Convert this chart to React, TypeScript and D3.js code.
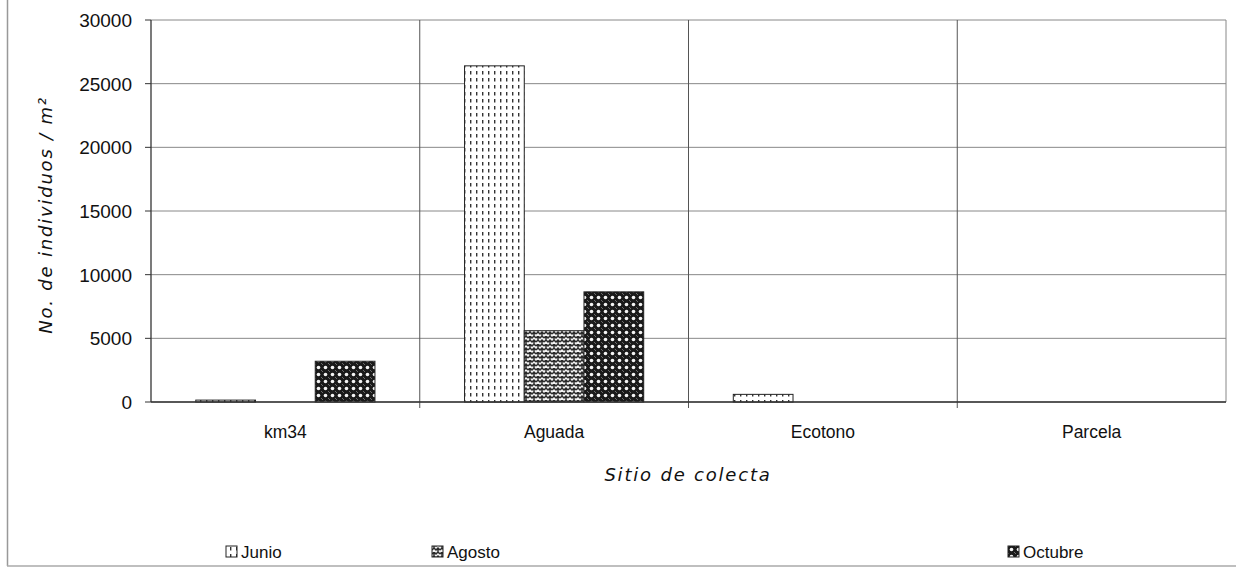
import React from "react";
import * as d3 from "d3";

const categories = ["km34", "Aguada", "Ecotono", "Parcela"];
const seriesNames = ["Junio", "Agosto", "Octubre"];
const junio = [150, 26400, 600, 0];
const agosto = [0, 5600, 0, 0];
const octubre = [3200, 8650, 0, 0];
const yTicks = [0, 5000, 10000, 15000, 20000, 25000, 30000];

const W = 1236;
const H = 569;
const M = { left: 151, right: 1226, top: 20, bottom: 402 };

export default function App() {
  const values = [junio, agosto, octubre];
  const x0 = d3.scaleBand<string>().domain(categories).range([M.left, M.right]).padding(0);
  const x1 = d3
    .scaleBand<string>()
    .domain(seriesNames)
    .range([0, x0.bandwidth()])
    .paddingInner(0)
    .paddingOuter(0.75);
  const y = d3.scaleLinear().domain([0, 30000]).range([M.bottom, M.top]);
  const fills = ["url(#pJunio)", "url(#pAgosto)", "url(#pOctubre)"];
  const font = "'Liberation Sans', Arial, sans-serif";
  const titleFont = "'DejaVu Sans', Verdana, sans-serif";

  return (
    <svg width={W} height={H} style={{ position: "absolute", left: 0, top: 0, background: "#fff" }}>
      <defs>
        <pattern id="pJunio" width="6" height="7" patternUnits="userSpaceOnUse">
          <rect width="6" height="7" fill="#fff" />
          <rect x="2" y="1" width="1.4" height="3.5" fill="#333" />
        </pattern>
        <pattern id="pAgosto" width="8" height="8" patternUnits="userSpaceOnUse">
          <rect width="8" height="8" fill="#f2f2f2" />
          <path d="M0,2 L2,0 L4,2 L6,0 L8,2 M0,6 L2,4 L4,6 L6,4 L8,6 M2,0 L2,4 M6,4 L6,8" stroke="#2a2a2a" strokeWidth="1.5" fill="none" />
        </pattern>
        <pattern id="pOctubre" width="7" height="7" patternUnits="userSpaceOnUse">
          <rect width="7" height="7" fill="#1a1a1a" />
          <circle cx="3.5" cy="3.5" r="1.8" fill="#f4f4f4" />
          <circle cx="0" cy="0" r="1" fill="#888" />
          <circle cx="7" cy="7" r="1" fill="#888" />
        </pattern>
      </defs>

      {/* outer frame */}
      <line x1={7.5} y1={0} x2={7.5} y2={566} stroke="#999" strokeWidth={1.5} />
      <line x1={7} y1={566} x2={W} y2={566} stroke="#aaa" strokeWidth={1.5} />

      {/* horizontal gridlines */}
      {yTicks.map((t) => (
        <line key={"g" + t} x1={M.left} x2={M.right} y1={y(t)} y2={y(t)} stroke="#888" strokeWidth={1} />
      ))}
      {/* vertical gridlines at category boundaries */}
      {categories.map((c, i) => (
        <line
          key={"v" + c}
          x1={(x0(c) as number) + x0.bandwidth()}
          x2={(x0(c) as number) + x0.bandwidth()}
          y1={M.top}
          y2={M.bottom + (i < categories.length - 1 ? 6 : 0)}
          stroke={i < categories.length - 1 ? "#555" : "#888"}
          strokeWidth={1}
        />
      ))}

      {/* bars */}
      {categories.map((c, ci) =>
        seriesNames.map((s, si) => {
          const v = values[si][ci];
          if (v <= 0) return null;
          const bx = (x0(c) as number) + (x1(s) as number);
          return (
            <rect
              key={c + s}
              x={bx}
              y={y(v)}
              width={x1.bandwidth()}
              height={M.bottom - y(v)}
              fill={fills[si]}
              stroke="#222"
              strokeWidth={1}
            />
          );
        })
      )}

      {/* axes */}
      <line x1={M.left} x2={M.left} y1={M.top} y2={M.bottom} stroke="#333" strokeWidth={1.3} />
      <line x1={M.left} x2={M.right} y1={M.bottom} y2={M.bottom} stroke="#333" strokeWidth={1.3} />
      {yTicks.map((t) => (
        <g key={"t" + t}>
          <line x1={M.left - 6} x2={M.left} y1={y(t)} y2={y(t)} stroke="#333" />
          <text
            x={M.left - 19}
            y={y(t)}
            dy="0.36em"
            textAnchor="end"
            fontFamily={font}
            fontSize={19}
            fill="#111"
          >
            {t}
          </text>
        </g>
      ))}
      {categories.map((c) => (
        <text
          key={"c" + c}
          x={(x0(c) as number) + x0.bandwidth() / 2}
          y={438}
          textAnchor="middle"
          fontFamily={font}
          fontSize={17.5}
          fill="#111"
        >
          {c}
        </text>
      ))}

      {/* axis titles */}
      <text
        x={688}
        y={481}
        textAnchor="middle"
        fontFamily={titleFont}
        fontStyle="italic"
        fontSize={18}
        letterSpacing={1.8}
        fill="#111"
      >
        Sitio de colecta
      </text>
      <text
        transform={`translate(52, ${(M.top + M.bottom) / 2 + 4}) rotate(-90)`}
        textAnchor="middle"
        fontFamily={titleFont}
        fontStyle="italic"
        fontSize={18}
        letterSpacing={1.8}
        fill="#111"
      >
        No. de individuos / m²
      </text>

      {/* legend */}
      {seriesNames.map((s, i) => {
        const lx = [226, 432, 1008][i];
        return (
          <g key={"l" + s}>
            <rect x={lx} y={546} width={11} height={11} fill={fills[i]} stroke="#222" strokeWidth={1} />
            <text x={lx + 15} y={558} fontFamily={font} fontSize={17} fill="#111">
              {s}
            </text>
          </g>
        );
      })}
    </svg>
  );
}
